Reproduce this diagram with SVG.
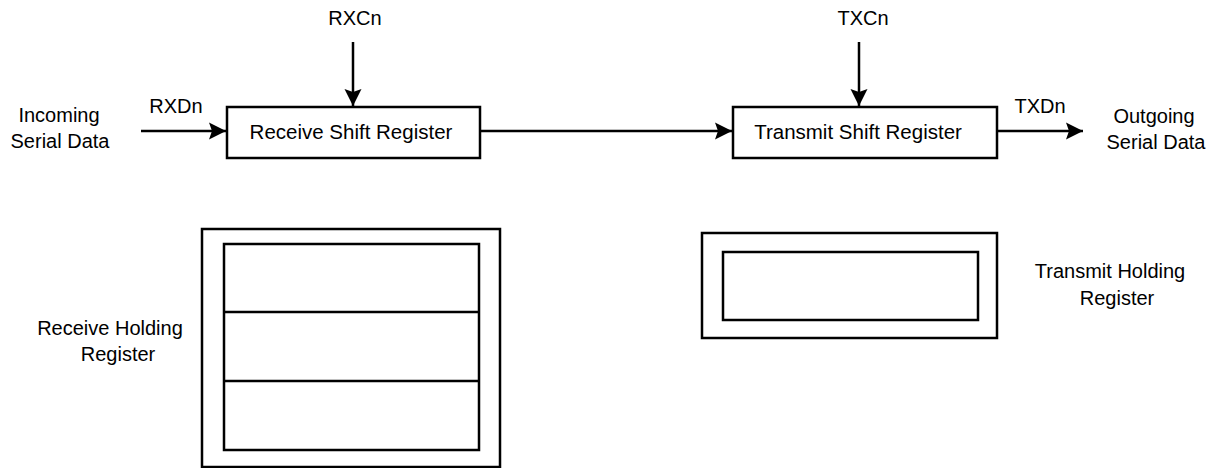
<svg xmlns="http://www.w3.org/2000/svg" width="1212" height="468" viewBox="0 0 1212 468">
<style>
  text { font-family: "Liberation Sans", Arial, Helvetica, sans-serif; font-size: 20px; fill: #000; text-anchor: middle; }
  .box { fill: #fff; stroke: #000; stroke-width: 2.5; }
  .wire { fill: none; stroke: #000; stroke-width: 2.5; }
  .blabel { font-size: 20.5px; }
</style>
<defs>
  <marker id="arr" viewBox="-18 -10 20 20" refX="0" refY="0" markerWidth="20" markerHeight="20" markerUnits="userSpaceOnUse" orient="auto">
    <path d="M0,0 L-17,-8.5 L-14,0 L-17,8.5 Z" fill="#000"/>
  </marker>
</defs>
<rect width="1212" height="468" fill="#fff"/>

<g id="connectors">
  <line class="wire" x1="141" y1="131" x2="226" y2="131" marker-end="url(#arr)"/>
  <line class="wire" x1="353" y1="42" x2="353" y2="106" marker-end="url(#arr)"/>
  <line class="wire" x1="480" y1="131" x2="732" y2="131" marker-end="url(#arr)"/>
  <line class="wire" x1="859" y1="42" x2="859" y2="106" marker-end="url(#arr)"/>
  <line class="wire" x1="997" y1="131" x2="1083" y2="131" marker-end="url(#arr)"/>
</g>

<g id="incoming">
  <text x="59" y="122">Incoming</text>
  <text x="60" y="148">Serial Data</text>
</g>
<g id="rxdn"><text x="176" y="113">RXDn</text></g>
<g id="rxcn"><text x="355" y="25">RXCn</text></g>
<g id="txcn"><text x="863" y="25">TXCn</text></g>
<g id="txdn"><text x="1040" y="113">TXDn</text></g>
<g id="outgoing">
  <text x="1154" y="123">Outgoing</text>
  <text x="1156" y="149">Serial Data</text>
</g>

<g id="receive-shift">
  <rect class="box" x="227" y="107" width="253" height="51"/>
  <text class="blabel" x="351" y="139">Receive Shift Register</text>
</g>
<g id="transmit-shift">
  <rect class="box" x="733" y="107" width="264" height="51"/>
  <text class="blabel" x="858" y="139">Transmit Shift Register</text>
</g>

<g id="receive-holding">
  <rect class="box" x="202" y="229" width="298" height="238"/>
  <rect class="box" x="224" y="244" width="255" height="206"/>
  <line class="wire" x1="224" y1="312" x2="479" y2="312"/>
  <line class="wire" x1="224" y1="381" x2="479" y2="381"/>
</g>
<g id="receive-holding-label">
  <text x="110" y="335">Receive Holding</text>
  <text x="118" y="361">Register</text>
</g>

<g id="transmit-holding">
  <rect class="box" x="702" y="233" width="295" height="105"/>
  <rect class="box" x="723" y="252" width="255" height="68"/>
</g>
<g id="transmit-holding-label">
  <text x="1110" y="278">Transmit Holding</text>
  <text x="1117" y="305">Register</text>
</g>
</svg>
